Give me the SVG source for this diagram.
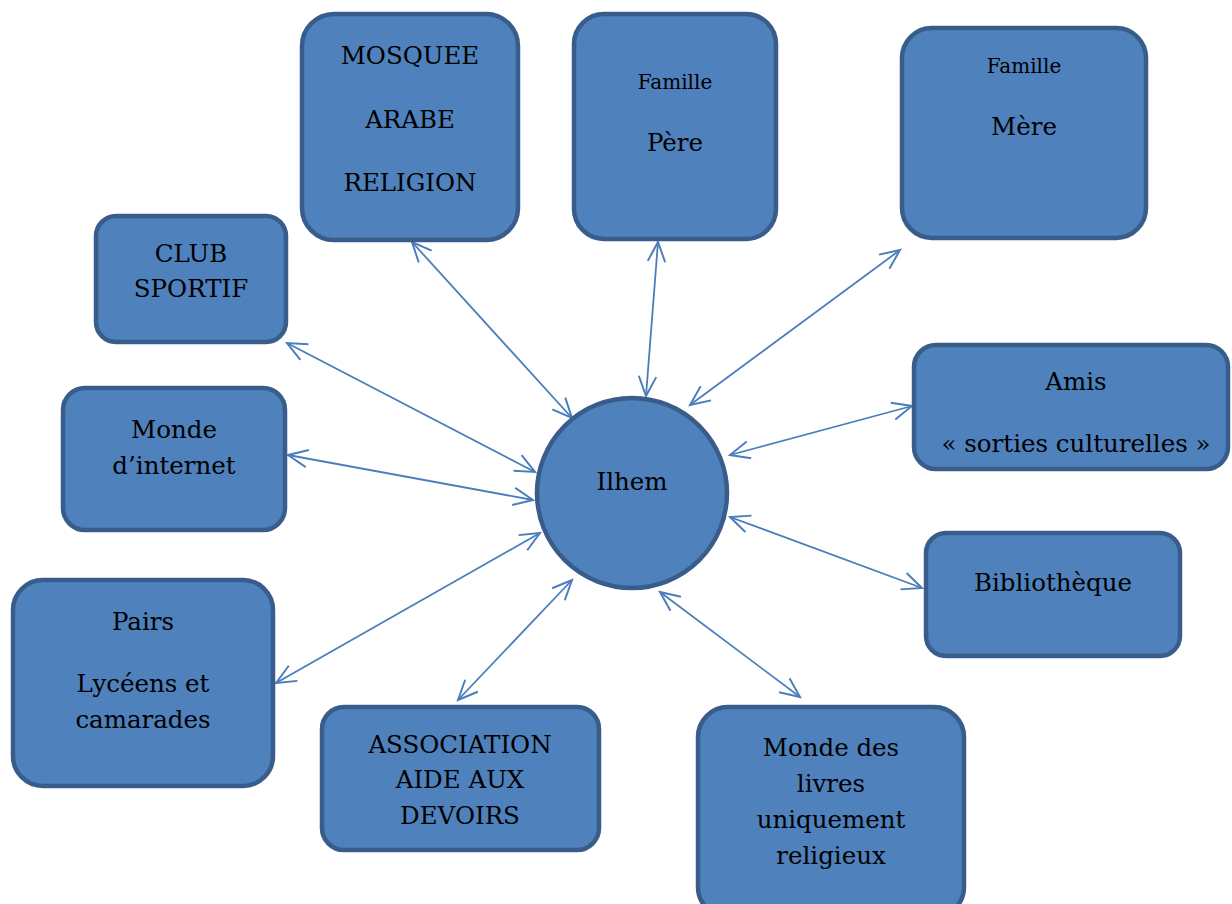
<svg xmlns="http://www.w3.org/2000/svg" width="1232" height="904" viewBox="0 0 1232 904">
<style>
.node{fill:#4F81BD;stroke:#385D8A;stroke-width:4.5}
.t{font-family:"DejaVu Serif","Liberation Serif",serif;font-size:24.5px;fill:#000;text-anchor:middle}
.s{font-size:20px}
.c{fill:none;stroke:#4A7EBB;stroke-width:1.8;marker-start:url(#ah);marker-end:url(#ah)}
</style>
<defs>
<marker id="ah" markerUnits="userSpaceOnUse" markerWidth="24" markerHeight="24" viewBox="-20 -10 22 20" refX="0" refY="0" orient="auto-start-reverse" overflow="visible">
<path d="M-18,-8 L0,0 L-18,8" fill="none" stroke="#4A7EBB" stroke-width="1.8"/>
</marker>
</defs>
<rect width="1232" height="904" fill="#fff"/>
<g id="connectors">
<line class="c" x1="412" y1="242" x2="572" y2="418"/>
<line class="c" x1="658" y1="242" x2="646" y2="396"/>
<line class="c" x1="900" y1="250" x2="690" y2="405"/>
<line class="c" x1="287" y1="343" x2="535" y2="472"/>
<line class="c" x1="288" y1="455" x2="533" y2="500"/>
<line class="c" x1="276" y1="683" x2="540" y2="533"/>
<line class="c" x1="458" y1="700" x2="572" y2="580"/>
<line class="c" x1="660" y1="592" x2="800" y2="697"/>
<line class="c" x1="730" y1="517" x2="922" y2="588"/>
<line class="c" x1="730" y1="455" x2="912" y2="406"/>
</g>
<g id="mosquee"><rect class="node" x="302" y="14" width="216" height="226" rx="32"/>
<text class="t" x="410" y="64">MOSQUEE</text><text class="t" x="410" y="128">ARABE</text><text class="t" x="410" y="191">RELIGION</text></g>
<g id="pere"><rect class="node" x="574" y="14" width="202" height="225" rx="30"/>
<text class="t s" x="675" y="89">Famille</text><text class="t" x="675" y="151">Père</text></g>
<g id="mere"><rect class="node" x="902" y="28" width="244" height="210" rx="30"/>
<text class="t s" x="1024" y="73">Famille</text><text class="t" x="1024" y="135">Mère</text></g>
<g id="club"><rect class="node" x="96" y="216" width="190" height="126" rx="20"/>
<text class="t" x="191" y="262">CLUB</text><text class="t" x="191" y="297">SPORTIF</text></g>
<g id="internet"><rect class="node" x="63" y="388" width="222" height="142" rx="22"/>
<text class="t" x="174" y="438">Monde</text><text class="t" x="174" y="474">d’internet</text></g>
<g id="pairs"><rect class="node" x="13" y="580" width="260" height="206" rx="30"/>
<text class="t" x="143" y="630">Pairs</text><text class="t" x="143" y="692">Lycéens et</text><text class="t" x="143" y="728">camarades</text></g>
<g id="association"><rect class="node" x="322" y="707" width="277" height="143" rx="22"/>
<text class="t" x="460" y="753">ASSOCIATION</text><text class="t" x="460" y="788">AIDE AUX</text><text class="t" x="460" y="824">DEVOIRS</text></g>
<g id="livres"><rect class="node" x="698" y="707" width="266" height="210" rx="30"/>
<text class="t" x="831" y="756">Monde des</text><text class="t" x="831" y="792">livres</text><text class="t" x="831" y="828">uniquement</text><text class="t" x="831" y="864">religieux</text></g>
<g id="bibliotheque"><rect class="node" x="926" y="533" width="254" height="123" rx="20"/>
<text class="t" x="1053" y="591">Bibliothèque</text></g>
<g id="amis"><rect class="node" x="914" y="345" width="314" height="124" rx="22"/>
<text class="t" x="1076" y="390">Amis</text><text class="t" x="1076" y="452">« sorties culturelles »</text></g>
<g id="ilhem"><circle class="node" cx="632" cy="493" r="95"/>
<text class="t" x="632" y="490">Ilhem</text></g>
</svg>
